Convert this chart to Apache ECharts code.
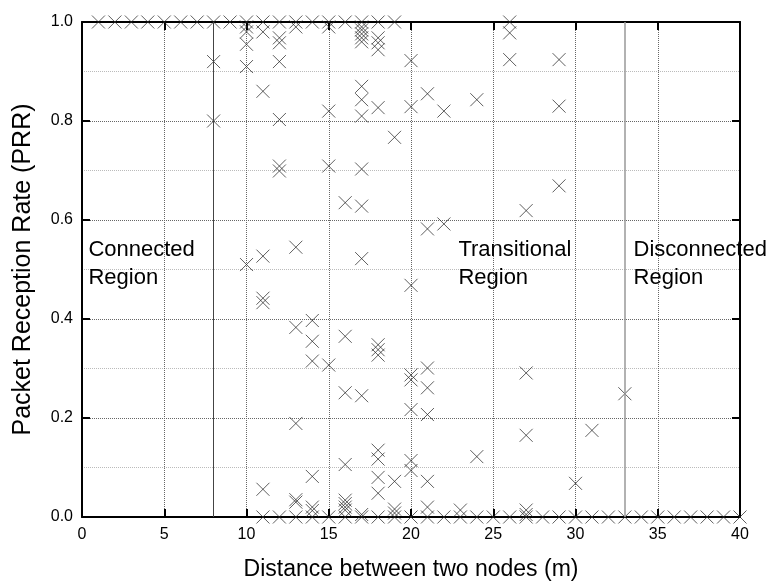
<!DOCTYPE html>
<html>
<head>
<meta charset="utf-8">
<script src="https://cdn.jsdelivr.net/npm/echarts@6/dist/echarts.min.js"></script>
<style>
  html, body { margin: 0; padding: 0; background: #fff; }
  #chart { width: 772px; height: 586px; }
</style>
</head>
<body>
<div id="chart"></div>
<script>
// distances (m) where every packet got through
const fullDist = [1, 2, 3, 4, 5, 6, 7, 8, 9, 10, 11, 12, 13, 14, 15, 16, 17, 18, 19, 26];
// distances where nothing got through
const zeroDist = [11, 12, 13, 14, 15, 16, 17, 18, 19, 20, 21, 22, 23, 24, 25, 26, 27, 28, 29, 30,
    31, 32, 33, 34, 35, 36, 37, 38, 39, 40];
// the rest: [distance, PRR values]
const scattered = [
    [8, [0.92, 0.80]],
    [10, [0.99, 0.98, 0.955, 0.91, 0.51]],
    [11, [0.98, 0.86, 0.527, 0.442, 0.433, 0.056]],
    [12, [0.968, 0.958, 0.92, 0.803, 0.709, 0.699]],
    [13, [0.99, 0.545, 0.383, 0.189, 0.035, 0.03]],
    [14, [0.397, 0.355, 0.315, 0.082, 0.02, 0.013]],
    [15, [0.99, 0.82, 0.709, 0.307]],
    [16, [0.635, 0.365, 0.251, 0.106, 0.034, 0.027, 0.02, 0.014]],
    [17, [0.99, 0.984, 0.976, 0.968, 0.96, 0.87, 0.843, 0.81, 0.703, 0.628, 0.522, 0.245, 0.005]],
    [18, [0.968, 0.958, 0.944, 0.827, 0.348, 0.338, 0.327, 0.135, 0.117, 0.08, 0.048]],
    [19, [0.767, 0.072, 0.016, 0.008]],
    [20, [0.922, 0.829, 0.468, 0.287, 0.277, 0.217, 0.114, 0.094]],
    [21, [0.855, 0.582, 0.301, 0.261, 0.207, 0.072, 0.02]],
    [22, [0.82, 0.592]],
    [23, [0.014]],
    [24, [0.843, 0.122]],
    [26, [0.978, 0.924]],
    [27, [0.619, 0.291, 0.165, 0.014, 0.005]],
    [29, [0.924, 0.83, 0.669]],
    [30, [0.068]],
    [31, [0.175]],
    [33, [0.249]]
];
const boundaries = [8, 33];
const regions = [
    {name: 'Connected\nRegion', value: [0.36, 0.512]},
    {name: 'Transitional\nRegion', value: [22.85, 0.512]},
    {name: 'Disconnected\nRegion', value: [33.5, 0.512]}
];

const points = [];
fullDist.forEach(d => points.push([d, 1.0]));
zeroDist.forEach(d => points.push([d, 0.0]));
scattered.forEach(([d, vals]) => vals.forEach(v => points.push([d, v])));

const font = '"Liberation Sans", Arial, sans-serif';
const chart = echarts.init(document.getElementById('chart'));

const plainAxis = {
    axisLine: {show: true, onZero: false, lineStyle: {color: '#000', width: 2}},
    axisTick: {show: true, inside: true, length: 8, lineStyle: {color: '#000', width: 2}},
    axisLabel: {show: false},
    splitLine: {show: false}
};

const option = {
    backgroundColor: '#fff',
    animation: false,
    grid: {left: 82, right: 32, top: 22, bottom: 66},
    xAxis: [
        {
            type: 'value', min: 0, max: 40, interval: 5,
            name: 'Distance between two nodes (m)',
            nameLocation: 'middle', nameGap: 41,
            nameTextStyle: {fontFamily: font, fontSize: 23, color: '#000'},
            axisLine: {onZero: false, lineStyle: {color: '#000', width: 2}},
            axisTick: {inside: true, length: 8, lineStyle: {color: '#000', width: 2}},
            axisLabel: {fontFamily: font, fontSize: 16, color: '#000', margin: 10},
            splitLine: {show: true, lineStyle: {type: 'dotted', color: '#666'}}
        },
        Object.assign({type: 'value', min: 0, max: 40, interval: 5, position: 'top'}, plainAxis)
    ],
    yAxis: [
        {
            type: 'value', min: 0, max: 1, interval: 0.2,
            name: 'Packet Reception Rate (PRR)',
            nameLocation: 'middle', nameGap: 46,
            nameTextStyle: {fontFamily: font, fontSize: 25, color: '#000'},
            axisLine: {show: true, onZero: false, lineStyle: {color: '#000', width: 2}},
            axisTick: {show: true, inside: true, length: 8, lineStyle: {color: '#000', width: 2}},
            axisLabel: {fontFamily: font, fontSize: 16, color: '#000', margin: 9,
                formatter: v => v.toFixed(1)},
            splitLine: {show: true, lineStyle: {type: 'dotted', color: '#666'}},
            minorTick: {show: false, splitNumber: 2},
            minorSplitLine: {show: true, lineStyle: {type: 'dotted', color: '#bbb'}}
        },
        Object.assign({type: 'value', min: 0, max: 1, interval: 0.2, position: 'right'}, plainAxis)
    ],
    series: [
        {
            type: 'scatter',
            data: points,
            clip: false,
            symbol: 'path://M0,0L10,10M10,0L0,10',
            symbolSize: 13,
            itemStyle: {color: 'none', borderColor: 'rgba(40,40,40,0.75)', borderWidth: 1, opacity: 1},
            silent: true,
            z: 3,
            markLine: {
                silent: true,
                symbol: 'none',
                label: {show: false},
                data: [
                    {xAxis: boundaries[0], lineStyle: {color: '#444', width: 1, type: 'solid'}},
                    {xAxis: boundaries[1], lineStyle: {color: '#999', width: 1.5, type: 'solid'}}
                ]
            }
        },
        {
            type: 'scatter',
            data: regions,
            symbolSize: 1,
            clip: false,
            itemStyle: {color: 'rgba(0,0,0,0)', opacity: 1},
            silent: true,
            z: 4,
            label: {
                show: true,
                position: 'right',
                distance: 0,
                formatter: p => p.name,
                fontFamily: font,
                fontSize: 22,
                lineHeight: 28,
                color: '#000',
                align: 'left',
                verticalAlign: 'middle'
            }
        }
    ]
};

chart.setOption(option);
</script>
</body>
</html>
